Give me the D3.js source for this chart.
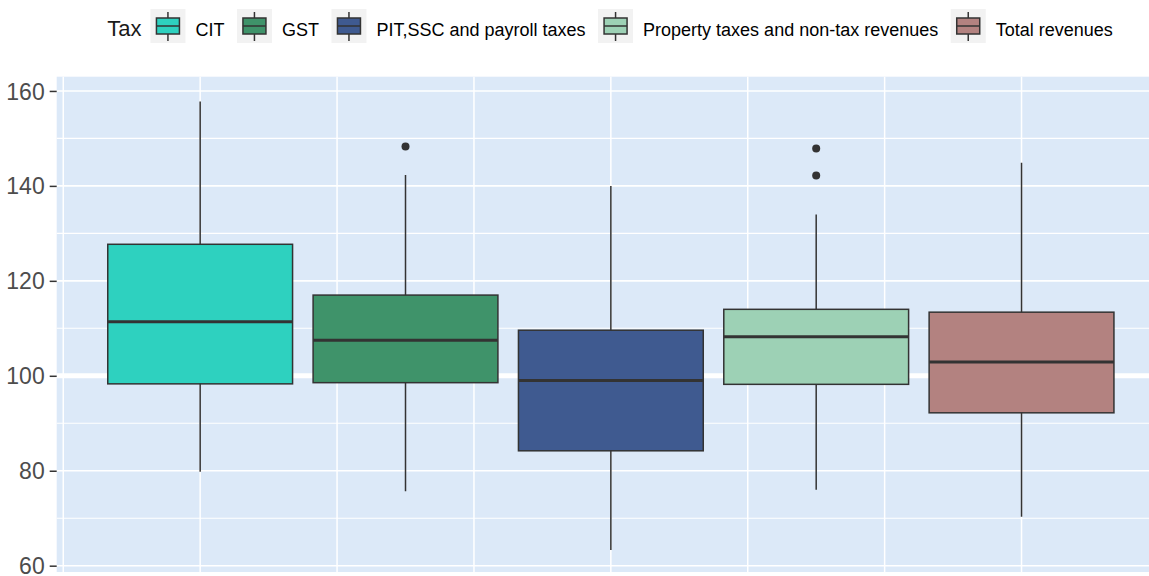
<!DOCTYPE html>
<html>
<head>
<meta charset="utf-8">
<script src="https://cdn.jsdelivr.net/npm/d3@7"></script>
<style>
  body { margin: 0; background: #fff; }
  svg { display: block; font-family: "Liberation Sans", Arial, sans-serif; }
</style>
</head>
<body>
<svg width="1149" height="576"></svg>
<script>
// values
const taxes = ["CIT", "GST", "PIT,SSC and payroll taxes", "Property taxes and non-tax revenues", "Total revenues"];
const whiskerLow = [79.8, 75.7, 63.3, 76.0, 70.3];
const q1 = [98.3, 98.55, 84.2, 98.2, 92.2];
const median = [111.4, 107.5, 99.0, 108.2, 102.9];
const q3 = [127.7, 117.0, 109.6, 114.0, 113.4];
const whiskerHigh = [157.8, 142.3, 140.0, 134.0, 144.9];
const outliers = [[], [148.3], [], [147.9, 142.2], []];
const fills = ["#2ed1bf", "#3f936a", "#3f5a90", "#9dd1b5", "#b38280"];
const yTicks = [60, 80, 100, 120, 140, 160];
const yMinor = [70, 90, 110, 130, 150];
const refLine = 100;

const svg = d3.select("svg");
const panel = { left: 56.7, top: 76.7, bottom: 572, right: 1165 };

const y = d3.scaleLinear().domain([58.67, 163.0]).range([panel.bottom, panel.top]);
const x = d3.scaleLinear().domain([-1.048, 7.048]).range([panel.left, panel.right]);
const step = 1.5, boxW = 1.35;

const boxes = taxes.map((t, i) => ({
    tax: t, pos: i * step, lo: whiskerLow[i], q1: q1[i], med: median[i],
    q3: q3[i], hi: whiskerHigh[i], out: outliers[i], fill: fills[i]
}));

// panel
svg.append("rect")
    .attr("x", panel.left).attr("y", panel.top)
    .attr("width", panel.right - panel.left).attr("height", panel.bottom - panel.top)
    .attr("fill", "#dce9f8");

const grid = svg.append("g").attr("stroke", "#fff");
grid.selectAll(".minor").data(yMinor).enter().append("line")
    .attr("x1", panel.left).attr("x2", panel.right)
    .attr("y1", d => y(d)).attr("y2", d => y(d))
    .attr("stroke-width", 1.1);
grid.selectAll(".major").data(yTicks).enter().append("line")
    .attr("x1", panel.left).attr("x2", panel.right)
    .attr("y1", d => y(d)).attr("y2", d => y(d))
    .attr("stroke-width", 1.6);
grid.selectAll(".vert").data(d3.range(-1, 8)).enter().append("line")
    .attr("x1", d => x(d)).attr("x2", d => x(d))
    .attr("y1", panel.top).attr("y2", panel.bottom)
    .attr("stroke-width", 1.5);

// reference line
svg.append("line")
    .attr("x1", panel.left).attr("x2", panel.right)
    .attr("y1", y(refLine)).attr("y2", y(refLine))
    .attr("stroke", "#fff").attr("stroke-width", 5);

// boxplots
const bg = svg.selectAll(".box").data(boxes).enter().append("g").attr("class", "box");
bg.append("line")
    .attr("x1", d => x(d.pos)).attr("x2", d => x(d.pos))
    .attr("y1", d => y(d.hi)).attr("y2", d => y(d.lo))
    .attr("stroke", "#333").attr("stroke-width", 1.5);
bg.append("rect")
    .attr("x", d => x(d.pos - boxW / 2))
    .attr("width", d => x(d.pos + boxW / 2) - x(d.pos - boxW / 2))
    .attr("y", d => y(d.q3))
    .attr("height", d => y(d.q1) - y(d.q3))
    .attr("fill", d => d.fill)
    .attr("stroke", "#333").attr("stroke-width", 1.5);
bg.append("line")
    .attr("x1", d => x(d.pos - boxW / 2)).attr("x2", d => x(d.pos + boxW / 2))
    .attr("y1", d => y(d.med)).attr("y2", d => y(d.med))
    .attr("stroke", "#333").attr("stroke-width", 3);
bg.selectAll("circle").data(d => d.out.map(v => ({ pos: d.pos, v }))).enter().append("circle")
    .attr("cx", d => x(d.pos)).attr("cy", d => y(d.v))
    .attr("r", 4).attr("fill", "#333");

// y axis
const yAxis = svg.append("g")
    .attr("transform", "translate(" + panel.left + ",0)")
    .call(d3.axisLeft(y).tickValues(yTicks).tickSize(7).tickPadding(5));
yAxis.select(".domain").remove();
yAxis.selectAll(".tick line").attr("stroke", "#333").attr("stroke-width", 1.5);
yAxis.selectAll(".tick text")
    .attr("fill", "#4d4d4d")
    .style("font-size", "23px")
    .attr("dy", "0.35em");

// legend
const legend = svg.append("g");
const keyW = 35, keyH = 34, legendY = 9;
const title = legend.append("text")
    .attr("y", legendY + 27).attr("fill", "#1a1a1a")
    .style("font-size", "22px").text("Tax");
let cx = title.node().getComputedTextLength() + 9;
boxes.forEach(d => {
    const k = legend.append("g").attr("transform", "translate(" + cx + "," + legendY + ")");
    k.append("rect").attr("width", keyW).attr("height", keyH).attr("fill", "#f2f2f2");
    k.append("line").attr("x1", keyW / 2).attr("x2", keyW / 2).attr("y1", 3).attr("y2", keyH - 2)
        .attr("stroke", "#333").attr("stroke-width", 1.5);
    k.append("rect").attr("x", 6).attr("y", 9).attr("width", keyW - 12).attr("height", 16)
        .attr("fill", d.fill).attr("stroke", "#333").attr("stroke-width", 1.5);
    k.append("line").attr("x1", 6).attr("x2", keyW - 6).attr("y1", 17).attr("y2", 17)
        .attr("stroke", "#333").attr("stroke-width", 1.5);
    const t = legend.append("text")
        .attr("x", cx + keyW + 10).attr("y", legendY + 27)
        .attr("fill", "#000").style("font-size", "18px").text(d.tax);
    cx += keyW + 10 + t.node().getComputedTextLength() + 12.5;
});
const legendW = cx - 12.5;
legend.attr("transform", "translate(" + (610 - legendW / 2) + ",0)");
</script>
</body>
</html>
